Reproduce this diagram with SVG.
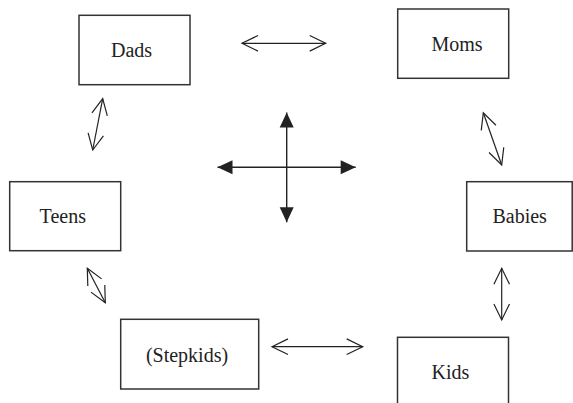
<svg xmlns="http://www.w3.org/2000/svg" width="573" height="403" viewBox="0 0 573 403">
<style>
.box{fill:#fff;stroke:#333;stroke-width:1.5}
.lbl{font-family:"Liberation Serif","Times New Roman",serif;font-size:20px;fill:#222;text-anchor:middle}
.open{fill:none;stroke:#222;stroke-width:1.2;marker-start:url(#oa);marker-end:url(#oa)}
.solid{fill:none;stroke:#222;stroke-width:1.4;marker-start:url(#sa);marker-end:url(#sa)}
</style>
<defs>
<marker id="oa" markerUnits="userSpaceOnUse" viewBox="-17 -9 18 18" refX="0" refY="0" markerWidth="18" markerHeight="18" orient="auto-start-reverse" overflow="visible">
<path d="M-16,-7.8 L0,0 L-16,7.8" fill="none" stroke="#222" stroke-width="1.2"/>
</marker>
<marker id="sa" markerUnits="userSpaceOnUse" viewBox="-16 -8 17 16" refX="0" refY="0" markerWidth="17" markerHeight="16" orient="auto-start-reverse" overflow="visible">
<path d="M-15,-7 L0,0 L-15,7 Z" fill="#222"/>
</marker>
</defs>
<rect width="573" height="403" fill="#fff"/>
<g id="dads"><rect class="box" x="79" y="15.3" width="111" height="69.4"/><text class="lbl" x="131.5" y="57.3">Dads</text></g>
<g id="moms"><rect class="box" x="397.7" y="9" width="111" height="69.3"/><text class="lbl" x="457" y="50.7">Moms</text></g>
<g id="babies"><rect class="box" x="466.7" y="181.7" width="105.5" height="69.3"/><text class="lbl" x="519.7" y="223.3">Babies</text></g>
<g id="kids"><rect class="box" x="397.5" y="337.3" width="111" height="80"/><text class="lbl" x="450.5" y="379.3">Kids</text></g>
<g id="stepkids"><rect class="box" x="120.7" y="319.3" width="138" height="69.7"/><text class="lbl" x="187" y="362.3">(Stepkids)</text></g>
<g id="teens"><rect class="box" x="9.7" y="181.7" width="111" height="69"/><text class="lbl" x="62.8" y="222.7">Teens</text></g>
<g id="connectors">
<line class="open" x1="242" y1="43.3" x2="325.7" y2="43.3"/>
<line class="open" x1="483.3" y1="112.7" x2="501.7" y2="165"/>
<line class="open" x1="501.7" y1="268.3" x2="501.7" y2="320"/>
<line class="open" x1="272" y1="346.7" x2="362.7" y2="346.7"/>
<line class="open" x1="87.3" y1="268.3" x2="105.3" y2="302.7"/>
<line class="open" x1="102.7" y1="98.7" x2="92.7" y2="150"/>
</g>
<g id="cross">
<line class="solid" x1="286.7" y1="112.5" x2="286.7" y2="222.3"/>
<line class="solid" x1="217.5" y1="167.3" x2="355.7" y2="167.3"/>
</g>
</svg>
